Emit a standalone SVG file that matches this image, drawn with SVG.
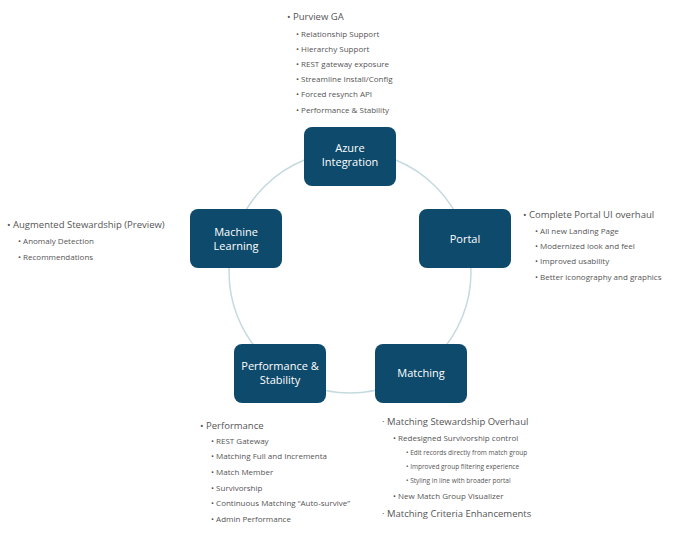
<svg xmlns="http://www.w3.org/2000/svg" width="698" height="538" viewBox="0 0 698 538">
<style>
.n{fill:#0e4a6b}
.nt{fill:#fff;font-family:"Open Sans","Liberation Sans",sans-serif;font-size:11px;text-anchor:middle}
.t{fill:#555;font-family:"Open Sans","Liberation Sans",sans-serif;font-size:9.5px}
.s{fill:#555;font-family:"Open Sans","Liberation Sans",sans-serif;font-size:8px}
.xs{fill:#555;font-family:"Open Sans","Liberation Sans",sans-serif;font-size:6.5px}
</style>
<rect width="698" height="538" fill="#fff"/>
<g id="connectors"><circle cx="350" cy="272" r="121" fill="none" stroke="#c5dade" stroke-width="1.5"/></g>
<g id="azure"><rect class="n" x="304" y="127" width="92" height="59" rx="8"/><text class="nt" x="350" y="152">Azure</text><text class="nt" x="350" y="166">Integration</text></g>
<g id="portal"><rect class="n" x="419" y="209" width="92" height="59" rx="8"/><text class="nt" x="465" y="243">Portal</text></g>
<g id="matching"><rect class="n" x="375" y="344" width="92" height="59" rx="8"/><text class="nt" x="421" y="377">Matching</text></g>
<g id="perf"><rect class="n" x="234" y="344" width="92" height="59" rx="8"/><text class="nt" x="280" y="370">Performance &amp;</text><text class="nt" x="280" y="384">Stability</text></g>
<g id="ml"><rect class="n" x="190" y="209" width="92" height="59" rx="8"/><text class="nt" x="236" y="236">Machine</text><text class="nt" x="236" y="250">Learning</text></g>
<g id="azure-notes">
<text class="t" x="287" y="20">•  Purview GA</text>
<text class="s" x="296" y="37">•   Relationship Support</text>
<text class="s" x="296" y="52">•   Hierarchy Support</text>
<text class="s" x="296" y="67">•   REST gateway exposure</text>
<text class="s" x="296" y="82">•   Streamline Install/Config</text>
<text class="s" x="296" y="97">•   Forced resynch API</text>
<text class="s" x="296" y="113">•   Performance &amp; Stability</text>
</g>
<g id="portal-notes">
<text class="t" x="523" y="218">•  Complete Portal UI overhaul</text>
<text class="s" x="535" y="234">•   All new Landing Page</text>
<text class="s" x="535" y="249">•   Modernized look and feel</text>
<text class="s" x="535" y="264">•   Improved usability</text>
<text class="s" x="535" y="280">•   Better iconography and graphics</text>
</g>
<g id="ml-notes">
<text class="t" x="7" y="228">•  Augmented Stewardship (Preview)</text>
<text class="s" x="18" y="244">•   Anomaly Detection</text>
<text class="s" x="18" y="260">•   Recommendations</text>
</g>
<g id="perf-notes">
<text class="t" x="200" y="429">•  Performance</text>
<text class="s" x="211" y="444">•   REST Gateway</text>
<text class="s" x="211" y="459">•   Matching Full and Incrementa</text>
<text class="s" x="211" y="475">•   Match Member</text>
<text class="s" x="211" y="491">•   Survivorship</text>
<text class="s" x="211" y="506">•   Continuous Matching “Auto-survive”</text>
<text class="s" x="211" y="522">•   Admin Performance</text>
</g>
<g id="matching-notes">
<text class="t" x="382" y="425">·   Matching Stewardship Overhaul</text>
<text class="s" x="393" y="441">•   Redesigned Survivorship control</text>
<text class="xs" x="406" y="455">•  Edit records directly from match group</text>
<text class="xs" x="406" y="469">•  Improved group filtering experience</text>
<text class="xs" x="406" y="483">•  Styling in line with broader portal</text>
<text class="s" x="393" y="499">•   New Match Group Visualizer</text>
<text class="t" x="382" y="517">·   Matching Criteria Enhancements</text>
</g>
</svg>
